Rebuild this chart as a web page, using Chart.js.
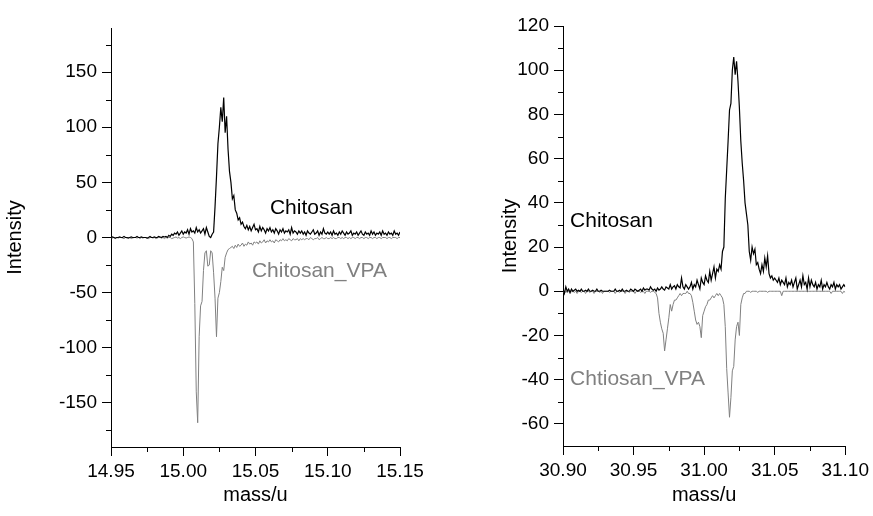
<!DOCTYPE html>
<html>
<head>
<meta charset="utf-8">
<script src="https://cdn.jsdelivr.net/npm/chart.js@4/dist/chart.umd.min.js"></script>
<style>
  html, body { margin:0; padding:0; background:#fff; }
  body { width:873px; height:516px; position:relative; overflow:hidden; }
  .box { position:absolute; top:0; height:516px; }
  #boxL { left:0; width:436px; }
  #boxR { left:495px; width:378px; }
</style>
</head>
<body>
<div class="box" id="boxL"><canvas id="cL"></canvas></div>
<div class="box" id="boxR"><canvas id="cR"></canvas></div>
<script>
// ---------- DATA ----------
const leftMass = [
14.950,14.951,14.952,14.953,14.954,14.955,14.956,14.957,14.958,14.959,
14.960,14.961,14.962,14.963,14.964,14.965,14.966,14.967,14.968,14.969,
14.970,14.971,14.972,14.973,14.974,14.975,14.976,14.977,14.978,14.979,
14.980,14.981,14.982,14.983,14.984,14.985,14.986,14.987,14.988,14.989,
14.990,14.991,14.992,14.993,14.994,14.995,14.996,14.997,14.998,14.999,
15.000,15.001,15.002,15.003,15.004,15.005,15.006,15.007,15.008,15.009,
15.010,15.011,15.012,15.013,15.014,15.015,15.016,15.017,15.018,15.019,
15.020,15.021,15.022,15.023,15.024,15.025,15.026,15.027,15.028,15.029,
15.030,15.031,15.032,15.033,15.034,15.035,15.036,15.037,15.038,15.039,
15.040,15.041,15.042,15.043,15.044,15.045,15.046,15.047,15.048,15.049,
15.050,15.051,15.052,15.053,15.054,15.055,15.056,15.057,15.058,15.059,
15.060,15.061,15.062,15.063,15.064,15.065,15.066,15.067,15.068,15.069,
15.070,15.071,15.072,15.073,15.074,15.075,15.076,15.077,15.078,15.079,
15.080,15.081,15.082,15.083,15.084,15.085,15.086,15.087,15.088,15.089,
15.090,15.091,15.092,15.093,15.094,15.095,15.096,15.097,15.098,15.099,
15.100,15.101,15.102,15.103,15.104,15.105,15.106,15.107,15.108,15.109,
15.110,15.111,15.112,15.113,15.114,15.115,15.116,15.117,15.118,15.119,
15.120,15.121,15.122,15.123,15.124,15.125,15.126,15.127,15.128,15.129,
15.130,15.131,15.132,15.133,15.134,15.135,15.136,15.137,15.138,15.139,
15.140,15.141,15.142,15.143,15.144,15.145,15.146,15.147,15.148,15.149,
15.150
];
const leftChitosan = [
0,0.5,0,-0.5,0,0,0.5,0,0,1,
0,0,-0.5,0,0.5,0,0,0,1,0,
0,0.5,0,0,0,-0.5,0,1,0,0,
0.5,0,0,1,0.5,0,1,0.5,1,0,
2,1,3,2,4,3,5,2,4,6,
3,5,4,7,3,8,5,6,4,9,
5,7,4,6,8,3,9,5,1,0,
3,5,28,55,85,100,118,105,127,95,
110,80,60,50,35,38,25,22,16,18,
12,14,10,8,11,7,10,6,9,12,
7,8,5,10,6,9,7,4,8,6,
9,5,7,4,8,6,3,7,5,8,
4,6,5,7,3,9,4,6,5,3,
6,4,6,3,5,2,6,4,3,5,
7,3,4,6,2,5,3,8,4,3,
5,3,5,2,6,3,4,2,5,3,
6,4,2,5,3,4,6,2,4,3,
5,2,4,6,3,2,5,3,4,2,
6,3,5,2,4,3,5,2,6,3,
4,2,5,3,4,2,6,3,4,2,
5
];
const leftVPA = [
0,-0.5,0,-1,0,-0.5,0,0,-0.5,-1,
0,-0.5,0,0,-1,-0.5,0,0,-0.5,0,
-1,0,-0.5,0,0,-0.5,-1,0,0,-0.5,
0,-1,-0.5,0,0,-0.5,0,-1,0,-0.5,
0,0,-1,-0.5,0,0.5,-0.5,0,-1,0,
0.5,0,-0.5,0,0.5,0,-1,-4,-60,-140,
-168,-90,-62,-58,-30,-14,-12,-26,-25,-12,
-14,-32,-55,-90,-55,-50,-40,-27,-30,-18,
-14,-11,-10,-9,-8,-10,-7,-9,-6,-8,
-7,-5,-8,-6,-7,-4,-6,-5,-7,-4,
-5,-4,-6,-3,-5,-4,-2,-5,-3,-4,
-2,-4,-3,-5,-2,-3,-4,-2,-3,-1,
-3,-2,-3,-1,-2,-3,-1,-2,-2,-1,
-3,-1,-2,-1,-2,-1,-1,-2,0,-1,
-2,-1,-1,0,-2,-1,0,-1,-1,0,
-1,-1,0,-1,0,-1,-1,0,0,-1,
0,-1,0,0,-1,0,-1,0,0,-1,
0,0,-1,0,0,-1,0,0,-1,0,
0,-1,0,0,-1,0,0,-1,0,0,
0,-1,0,0,-1,0,0,0,-1,0,
0
];
const rightMass = [
30.900,30.901,30.902,30.903,30.904,30.905,30.906,30.907,30.908,30.909,
30.910,30.911,30.912,30.913,30.914,30.915,30.916,30.917,30.918,30.919,
30.920,30.921,30.922,30.923,30.924,30.925,30.926,30.927,30.928,30.929,
30.930,30.931,30.932,30.933,30.934,30.935,30.936,30.937,30.938,30.939,
30.940,30.941,30.942,30.943,30.944,30.945,30.946,30.947,30.948,30.949,
30.950,30.951,30.952,30.953,30.954,30.955,30.956,30.957,30.958,30.959,
30.960,30.961,30.962,30.963,30.964,30.965,30.966,30.967,30.968,30.969,
30.970,30.971,30.972,30.973,30.974,30.975,30.976,30.977,30.978,30.979,
30.980,30.981,30.982,30.983,30.984,30.985,30.986,30.987,30.988,30.989,
30.990,30.991,30.992,30.993,30.994,30.995,30.996,30.997,30.998,30.999,
31.000,31.001,31.002,31.003,31.004,31.005,31.006,31.007,31.008,31.009,
31.010,31.011,31.012,31.013,31.014,31.015,31.016,31.017,31.018,31.019,
31.020,31.021,31.022,31.023,31.024,31.025,31.026,31.027,31.028,31.029,
31.030,31.031,31.032,31.033,31.034,31.035,31.036,31.037,31.038,31.039,
31.040,31.041,31.042,31.043,31.044,31.045,31.046,31.047,31.048,31.049,
31.050,31.051,31.052,31.053,31.054,31.055,31.056,31.057,31.058,31.059,
31.060,31.061,31.062,31.063,31.064,31.065,31.066,31.067,31.068,31.069,
31.070,31.071,31.072,31.073,31.074,31.075,31.076,31.077,31.078,31.079,
31.080,31.081,31.082,31.083,31.084,31.085,31.086,31.087,31.088,31.089,
31.090,31.091,31.092,31.093,31.094,31.095,31.096,31.097,31.098,31.099,
31.100
];
const rightChitosan = [
1,-1,2,0,1,-0.5,1,0,0.5,1,
0,0.5,0,1,0,0,0.5,0,1,0,
0,0.5,0,0,1,0,0,0.5,0,0,
0,0,0,0.5,0,0,0,1,0,0,
0.5,0,1,0,0,0.5,0,0,1,0.5,
0,1,0.5,0,0.5,1,0,1.5,0.5,1,
1,0.5,2,1,0.5,1,0,1.5,0.5,1,
2,1,0.5,2,1.5,1,3,1,2,2.5,
1,3,2,1.5,6,2,1,3,2,1,
2,4,1,3,2,5,3,1,6,4,
3,7,5,4,9,5,8,11,6,10,
9,12,10,18,20,42,55,68,82,85,
100,106,98,104,95,83,68,58,50,40,
35,30,18,14,20,17,19,12,13,10,
8,12,9,15,11,16,8,6,7,5,
6,5,4,6,3,5,4,3,6,2,
4,3,5,2,4,6,1,3,5,2,
7,3,4,1,6,2,5,3,2,4,
1,3,2,5,1,3,2,4,2,1,
3,2,4,1,3,2,3,1,2,3,
2
];
const rightVPA = [
0,-1,0,-0.5,0,-1,0,0,-0.5,0,
-1,0,0,-0.5,0,0,-1,0,0,-0.5,
0,0,-1,0,0,0,-0.5,0,-1,0,
0,0,0,-0.5,0,0,0,-1,0,0,
-0.5,0,0,0,-1,0,0,-0.5,0,0,
0,-1,0,0,0,-0.5,0,0,-1,0,
0,0,-0.5,0,0,-0.5,-1,-3,-10,-14,
-17,-19,-27,-22,-17,-12,-6,-9,-6,-4,
-4,-3,-2,-1,-2,-1,-1,-1,0,-1,
-1,-2,-5,-9,-13,-15,-14,-16,-21,-11,
-9,-7,-6,-4,-4,-3,-2,-3,-2,-1,
-2,-1,-2,-3,-6,-16,-35,-46,-57,-48,
-36,-34,-22,-16,-14,-20,-6,-3,-1,-1,
0,0,0,-0.5,0,0,0,0,-0.5,0,
0,0,0,0,0,-0.5,0,0,0,0,
0,0,0,0,0,-2,0,0,0,0,
0,0,0,0,0,0,0,0,0,0,
0,0,0,0,0,0,0,0,0,0,
0,0,0,0,0,0,0,0,0,0,
-1,0,0,0,0,0,0,0,-1,0,
-0.5
];

const leftXTicks = [14.95, 15.00, 15.05, 15.10, 15.15];
const leftXMinor = [14.975, 15.025, 15.075, 15.125];
const leftYTicks = [-150, -100, -50, 0, 50, 100, 150];
const leftYMinor = [-175, -125, -75, -25, 25, 75, 125, 175];
const rightXTicks = [30.90, 30.95, 31.00, 31.05, 31.10];
const rightXMinor = [30.925, 30.975, 31.025, 31.075];
const rightYTicks = [-60, -40, -20, 0, 20, 40, 60, 80, 100, 120];
const rightYMinor = [-50, -30, -10, 10, 30, 50, 70, 90, 110];

const leftNotes = [
  { text: 'Chitosan', x: 15.060, y: 27, color: '#000000' },
  { text: 'Chitosan_VPA', x: 15.0475, y: -31, color: '#808080' }
];
const rightNotes = [
  { text: 'Chitosan', x: 30.905, y: 31.5, color: '#000000' },
  { text: 'Chtiosan_VPA', x: 30.905, y: -40, color: '#808080' }
];

// ---------- RENDERING ----------
const FONT = '"Liberation Sans", Arial, Helvetica, sans-serif';
Chart.defaults.font.family = FONT;

function pts(xs, ys) { return xs.map((x, i) => ({ x: x, y: ys[i] })); }

const extras = {
  id: 'extras',
  afterDraw(chart, args, opts) {
    const ctx = chart.ctx;
    const xs = chart.scales.x, ys = chart.scales.y;
    ctx.save();
    ctx.strokeStyle = '#000';
    ctx.lineWidth = 1;
    (opts.yMinor || []).forEach(v => {
      const py = Math.round(ys.getPixelForValue(v)) + 0.5;
      ctx.beginPath(); ctx.moveTo(ys.right - 5, py); ctx.lineTo(ys.right, py); ctx.stroke();
    });
    (opts.xMinor || []).forEach(v => {
      const px = Math.round(xs.getPixelForValue(v)) + 0.5;
      ctx.beginPath(); ctx.moveTo(px, xs.top); ctx.lineTo(px, xs.top + 5); ctx.stroke();
    });
    ctx.font = '21px ' + FONT;
    ctx.textAlign = 'left';
    ctx.textBaseline = 'middle';
    (opts.notes || []).forEach(n => {
      ctx.fillStyle = n.color;
      ctx.fillText(n.text, xs.getPixelForValue(n.x), ys.getPixelForValue(n.y));
    });
    ctx.restore();
  }
};

function makeChart(id, cfg) {
  return new Chart(document.getElementById(id), {
    type: 'line',
    data: {
      datasets: [
        { data: pts(cfg.mass, cfg.chit), borderColor: '#000000', borderWidth: 1.2, pointRadius: 0, tension: 0, fill: false },
        { data: pts(cfg.mass, cfg.vpa), borderColor: '#808080', borderWidth: 1, pointRadius: 0, tension: 0, fill: false }
      ]
    },
    options: {
      responsive: true,
      maintainAspectRatio: false,
      animation: false,
      devicePixelRatio: 1,
      layout: { padding: { left: 0, top: cfg.padTop, right: cfg.padRight, bottom: 0 } },
      plugins: {
        legend: { display: false },
        tooltip: { enabled: false },
        extras: { xMinor: cfg.xMinor, yMinor: cfg.yMinor, notes: cfg.notes }
      },
      scales: {
        x: {
          type: 'linear',
          min: cfg.xMin, max: cfg.xMax,
          afterBuildTicks: s => { s.ticks = cfg.xTicks.map(v => ({ value: v })); },
          afterFit: s => { s.height = cfg.xAxisH; },
          border: { color: '#000', width: 1 },
          grid: { drawOnChartArea: false, drawTicks: true, tickLength: 9, tickColor: '#000', tickWidth: 1 },
          ticks: { color: '#000', font: { size: 19 }, padding: 4, maxRotation: 0, autoSkip: false,
                   callback: v => Number(v).toFixed(2) },
          title: { display: true, text: 'mass/u', color: '#000', font: { size: 20 }, padding: { top: 0, bottom: 9 } }
        },
        y: {
          type: 'linear',
          min: cfg.yMin, max: cfg.yMax,
          afterBuildTicks: s => { s.ticks = cfg.yTicks.map(v => ({ value: v })); },
          afterFit: s => { s.width = cfg.yAxisW; },
          border: { color: '#000', width: 1 },
          grid: { drawOnChartArea: false, drawTicks: true, tickLength: 9, tickColor: '#000', tickWidth: 1 },
          ticks: { color: '#000', font: { size: 19 }, padding: 5, callback: v => String(v) },
          title: { display: true, text: 'Intensity', color: '#000', font: { size: 20 }, padding: { top: 3, bottom: 0 } }
        }
      }
    },
    plugins: [extras]
  });
}

makeChart('cL', {
  mass: leftMass, chit: leftChitosan, vpa: leftVPA,
  xMin: 14.95, xMax: 15.15, yMin: -190, yMax: 190,
  xTicks: leftXTicks, xMinor: leftXMinor, yTicks: leftYTicks, yMinor: leftYMinor,
  notes: leftNotes, padTop: 28, padRight: 36, yAxisW: 111, xAxisH: 69
});
makeChart('cR', {
  mass: rightMass, chit: rightChitosan, vpa: rightVPA,
  xMin: 30.90, xMax: 31.10, yMin: -70, yMax: 120,
  xTicks: rightXTicks, xMinor: rightXMinor, yTicks: rightYTicks, yMinor: rightYMinor,
  notes: rightNotes, padTop: 26, padRight: 27, yAxisW: 68, xAxisH: 70
});
</script>
</body>
</html>
